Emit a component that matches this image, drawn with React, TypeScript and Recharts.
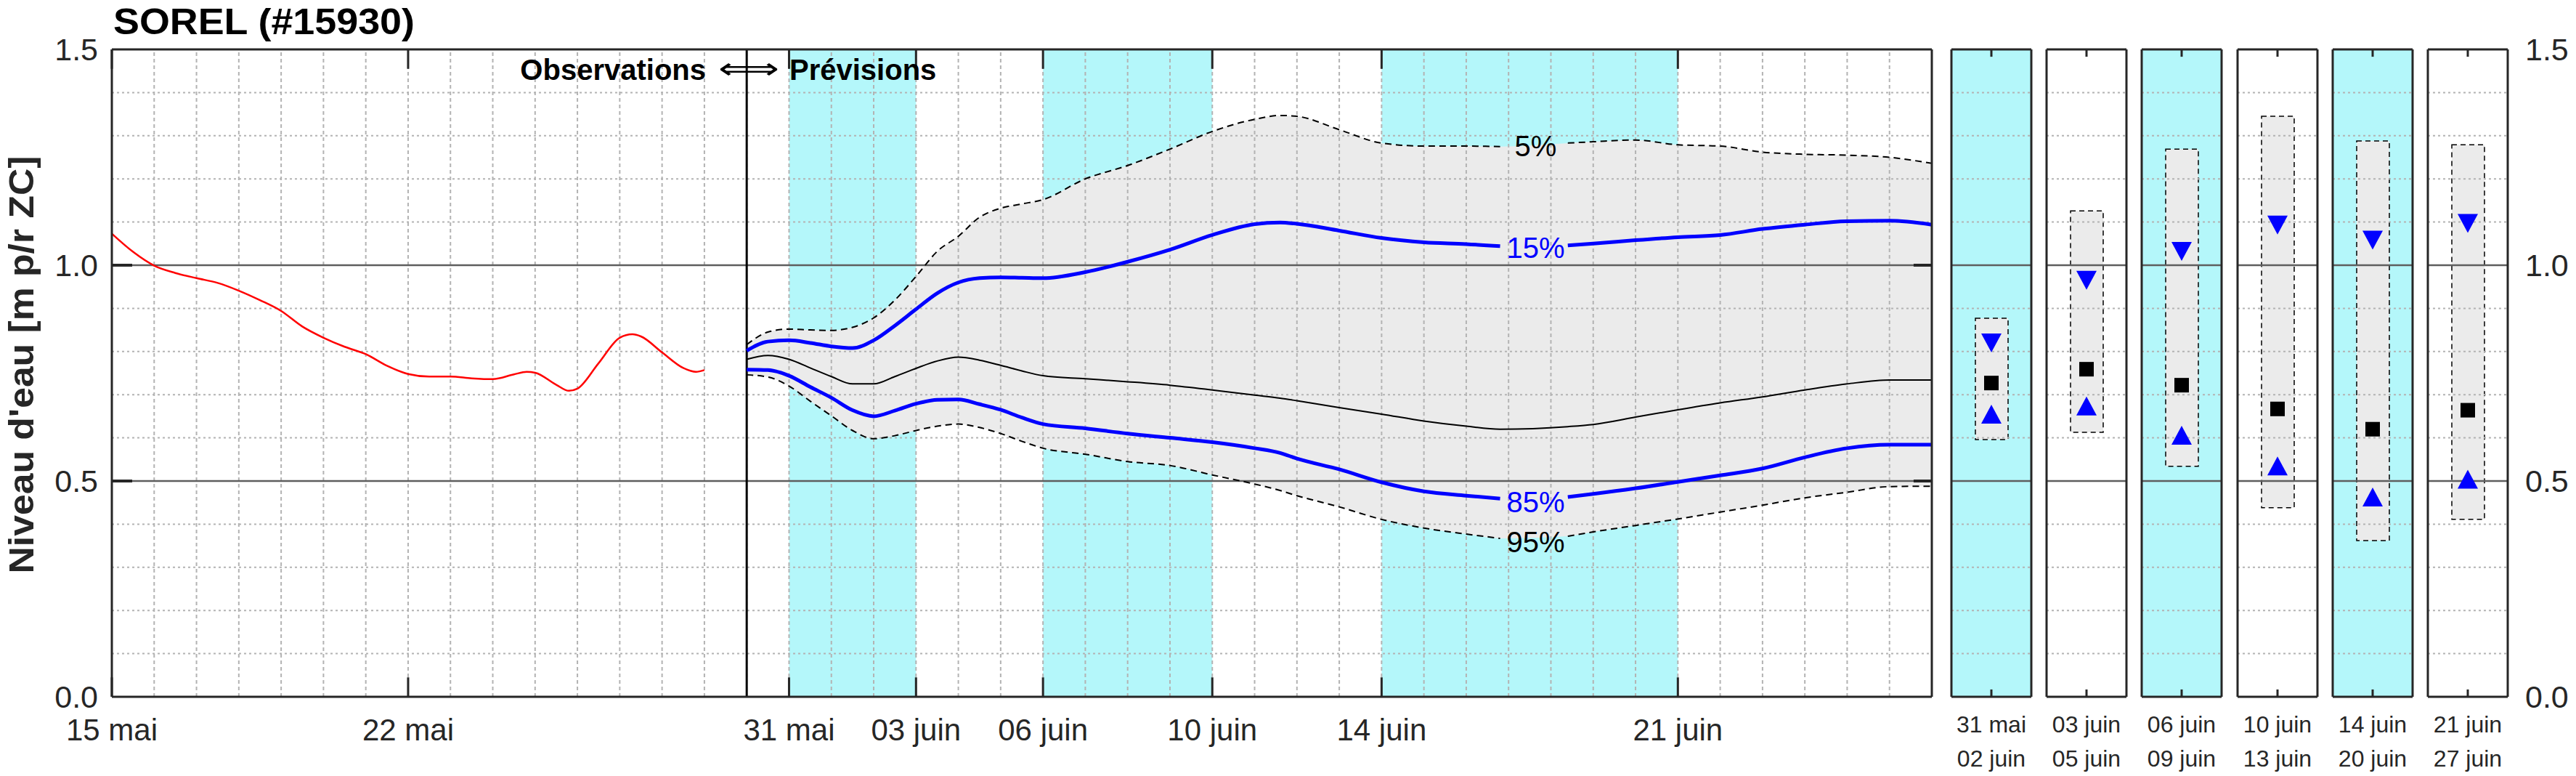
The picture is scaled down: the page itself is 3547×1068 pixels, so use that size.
import React from 'react';
import {
  ComposedChart, Line, Area, Bar, Scatter, XAxis, YAxis,
  ReferenceLine, ReferenceArea, ReferenceDot,
} from 'recharts';

const FONT = '"Liberation Sans", Arial, Helvetica, sans-serif';
const CYAN = '#b4f7fa';
const BAND = '#ebebeb';
const AXIS = '#262626';
const GRID = '#b3b3b3';
const MAJOR = '#5e5e5e';

// ---- x axis (days since 15 mai) ----
const TICK_DAYS = [0, 7, 16, 19, 22, 26, 30, 37];
const TICK_LABELS = ['15 mai', '22 mai', '31 mai', '03 juin', '06 juin', '10 juin', '14 juin', '21 juin'];
const SHADED_START = [16, 22, 30];
const SHADED_END = [19, 26, 37];
const FORECAST_START = 15;

// ---- observations ----
const OBS_DAYS = [0, 0.5, 1, 1.5, 2, 2.5, 3, 3.5, 4, 4.5, 5, 5.5, 6, 6.5, 7, 7.5, 8, 8.5, 9, 9.5, 9.8, 10, 10.5, 10.8, 11, 11.5, 12, 12.3, 12.5, 13, 13.5, 13.8, 14];
const OBS_LEVEL = [1.073, 1.031, 0.999, 0.982, 0.970, 0.959, 0.941, 0.919, 0.894, 0.858, 0.832, 0.811, 0.794, 0.767, 0.748, 0.742, 0.742, 0.738, 0.736, 0.747, 0.753, 0.751, 0.723, 0.709, 0.714, 0.773, 0.832, 0.840, 0.835, 0.798, 0.762, 0.753, 0.757];

// ---- forecast percentiles ----
const FC_DAYS = [15, 15.5, 16, 16.5, 17, 17.5, 18, 18.5, 19, 19.5, 20, 20.5, 21, 21.5, 22, 23, 24, 25, 26, 27, 27.6, 28, 29, 30, 31, 32, 32.8, 34.4, 35, 36, 37, 38, 39, 40, 41, 42, 43];
const P05 = [0.816, 0.845, 0.852, 0.850, 0.849, 0.856, 0.878, 0.919, 0.974, 1.032, 1.067, 1.111, 1.132, 1.142, 1.152, 1.200, 1.231, 1.269, 1.310, 1.338, 1.347, 1.345, 1.314, 1.283, 1.276, 1.276, 1.275, 1.283, 1.286, 1.290, 1.279, 1.276, 1.262, 1.257, 1.255, 1.250, 1.236];
const P15 = [0.802, 0.823, 0.826, 0.820, 0.812, 0.808, 0.826, 0.860, 0.898, 0.935, 0.960, 0.970, 0.972, 0.971, 0.970, 0.984, 1.008, 1.036, 1.070, 1.095, 1.099, 1.096, 1.080, 1.063, 1.053, 1.049, 1.044, 1.046, 1.050, 1.058, 1.065, 1.070, 1.084, 1.094, 1.102, 1.103, 1.094];
const P50 = [0.782, 0.791, 0.782, 0.762, 0.742, 0.725, 0.725, 0.742, 0.761, 0.778, 0.787, 0.780, 0.768, 0.755, 0.744, 0.737, 0.730, 0.722, 0.711, 0.699, 0.692, 0.686, 0.670, 0.655, 0.639, 0.627, 0.620, 0.626, 0.631, 0.648, 0.665, 0.681, 0.695, 0.711, 0.725, 0.734, 0.734];
const P85 = [0.758, 0.757, 0.744, 0.718, 0.693, 0.664, 0.650, 0.663, 0.679, 0.688, 0.689, 0.678, 0.665, 0.647, 0.632, 0.622, 0.610, 0.600, 0.590, 0.576, 0.565, 0.552, 0.527, 0.497, 0.476, 0.466, 0.459, 0.463, 0.470, 0.483, 0.498, 0.513, 0.529, 0.555, 0.576, 0.584, 0.584];
const P95 = [0.746, 0.741, 0.720, 0.685, 0.651, 0.617, 0.598, 0.605, 0.617, 0.627, 0.632, 0.624, 0.610, 0.592, 0.576, 0.562, 0.545, 0.536, 0.514, 0.493, 0.478, 0.466, 0.440, 0.411, 0.391, 0.377, 0.367, 0.372, 0.382, 0.397, 0.412, 0.428, 0.444, 0.461, 0.474, 0.487, 0.488];

// in-line labels of the percentile curves
const LABEL_DAY = 33.64;
const LABEL_GAP = [32.8, 34.4];
const LABEL_TEXT = ['5%', '15%', '85%', '95%'];
const LABEL_Y = [1.277, 1.040, 0.451, 0.359];
const LABEL_COLOR = ['#000000', '#0000ff', '#0000ff', '#000000'];

// ---- summary panels ----
const PANEL_START = ['31 mai', '03 juin', '06 juin', '10 juin', '14 juin', '21 juin'];
const PANEL_END = ['02 juin', '05 juin', '09 juin', '13 juin', '20 juin', '27 juin'];
const PANEL_SHADED = [true, false, true, false, true, false];
const PANEL_P05 = [0.877, 1.126, 1.269, 1.345, 1.288, 1.279];
const PANEL_P15 = [0.820, 0.965, 1.032, 1.093, 1.058, 1.097];
const PANEL_P50 = [0.727, 0.759, 0.722, 0.667, 0.620, 0.664];
const PANEL_P85 = [0.655, 0.674, 0.606, 0.535, 0.463, 0.504];
const PANEL_P95 = [0.596, 0.613, 0.534, 0.438, 0.362, 0.411];

const Y_TICKS = [0, 0.5, 1.0, 1.5];
const MINOR_Y = [0.1, 0.2, 0.3, 0.4, 0.6, 0.7, 0.8, 0.9, 1.1, 1.2, 1.3, 1.4];
const MAJOR_Y = [0.5, 1.0];
const X_MAX = 43;
const DAY_GRID = Array.from({ length: X_MAX - 1 }, (_, i) => i + 1);

const obsRows = OBS_DAYS.map((d, i) => ({ d, v: OBS_LEVEL[i] }));
const fcRows = FC_DAYS.map((d, i) => ({
  d, p05: P05[i], p15: P15[i], p50: P50[i], p85: P85[i], p95: P95[i], band: [P95[i], P05[i]],
}));
const fcBefore = fcRows.filter((r) => r.d <= LABEL_GAP[0]);
const fcAfter = fcRows.filter((r) => r.d >= LABEL_GAP[1]);

const PCT_STYLE: Record<string, any> = {
  p05: { stroke: '#000', strokeWidth: 2, strokeDasharray: '9 6' },
  p15: { stroke: '#0000ff', strokeWidth: 5 },
  p85: { stroke: '#0000ff', strokeWidth: 5 },
  p95: { stroke: '#000', strokeWidth: 2, strokeDasharray: '9 6' },
};

const FRAME_LINE = { stroke: AXIS, strokeWidth: 3 };

function MainChart() {
  return (
    <ComposedChart width={2680} height={1068} margin={{ top: 67, right: 19, bottom: 0, left: 0 }}>
      <XAxis
        type="number" dataKey="d" domain={[0, X_MAX]} ticks={TICK_DAYS} interval={0} allowDataOverflow
        tickFormatter={(v: number) => TICK_LABELS[TICK_DAYS.indexOf(v)]}
        height={109} axisLine={FRAME_LINE} tickLine={false} tickSize={0} tickMargin={30}
        tick={{ fill: AXIS, fontSize: 42, fontFamily: FONT }}
      />
      <XAxis xAxisId="t" orientation="top" type="number" dataKey="d" domain={[0, X_MAX]} allowDataOverflow
        height={1} axisLine={FRAME_LINE} tick={false} tickLine={false} />
      <YAxis
        type="number" domain={[0, 1.5]} ticks={Y_TICKS} interval={0} allowDataOverflow width={154}
        tickFormatter={(v: number) => v.toFixed(1)} axisLine={FRAME_LINE} tickLine={false} tickSize={0} tickMargin={19}
        tick={{ fill: AXIS, fontSize: 43, fontFamily: FONT }}
      />
      <YAxis yAxisId="r" orientation="right" type="number" domain={[0, 1.5]} allowDataOverflow width={1}
        axisLine={FRAME_LINE} tick={false} tickLine={false} />
      {SHADED_START.map((s, i) => (
        <ReferenceArea key={'sh' + i} x1={s} x2={SHADED_END[i]} y1={0} y2={1.5} fill={CYAN} fillOpacity={1} stroke="none" ifOverflow="visible" />
      ))}
      <Area data={fcRows} dataKey="band" type="monotone" fill={BAND} fillOpacity={1} stroke="none" isAnimationActive={false} />
      {DAY_GRID.map((d) => (
        <ReferenceLine key={'vg' + d} x={d} stroke={GRID} strokeWidth={2} strokeDasharray="5 4" />
      ))}
      {MINOR_Y.map((y) => (
        <ReferenceLine key={'hg' + y} y={y} stroke={GRID} strokeWidth={2} strokeDasharray="3 4" />
      ))}
      {MAJOR_Y.map((y) => (
        <ReferenceLine key={'mg' + y} y={y} stroke={MAJOR} strokeWidth={2.5} />
      ))}
      <ReferenceLine x={FORECAST_START} stroke="#000" strokeWidth={3} />
      <Line data={obsRows} dataKey="v" type="monotone" stroke="#ff0000" strokeWidth={2.5} dot={false} isAnimationActive={false} />
      <Line data={fcRows} dataKey="p50" type="monotone" stroke="#000" strokeWidth={2} dot={false} isAnimationActive={false} />
      {['p05', 'p15', 'p85', 'p95'].map((k) => (
        <Line key={k + 'a'} data={fcBefore} dataKey={k} type="monotone" dot={false} isAnimationActive={false} {...PCT_STYLE[k]} />
      ))}
      {['p05', 'p15', 'p85', 'p95'].map((k) => (
        <Line key={k + 'b'} data={fcAfter} dataKey={k} type="monotone" dot={false} isAnimationActive={false} {...PCT_STYLE[k]} />
      ))}
      {LABEL_TEXT.map((t, i) => (
        <ReferenceDot
          key={'lb' + i} x={LABEL_DAY} y={LABEL_Y[i]} r={0} fill="none" stroke="none"
          label={{ value: t, position: 'center', fontSize: 40, fill: LABEL_COLOR[i], fontFamily: FONT }}
        />
      ))}
      {TICK_DAYS.map((d) => (
        <ReferenceLine key={'tb' + d} segment={[{ x: d, y: 0 }, { x: d, y: 0.045 }]} stroke={AXIS} strokeWidth={3} ifOverflow="visible" />
      ))}
      {TICK_DAYS.map((d) => (
        <ReferenceLine key={'tt' + d} segment={[{ x: d, y: 1.455 }, { x: d, y: 1.5 }]} stroke={AXIS} strokeWidth={3} ifOverflow="visible" />
      ))}
      {MAJOR_Y.map((y) => (
        <ReferenceLine key={'tl' + y} segment={[{ x: 0.001, y }, { x: 0.48, y }]} stroke={AXIS} strokeWidth={4} ifOverflow="visible" />
      ))}
      {MAJOR_Y.map((y) => (
        <ReferenceLine key={'tr' + y} segment={[{ x: X_MAX - 0.43, y }, { x: X_MAX - 0.001, y }]} stroke={AXIS} strokeWidth={4} ifOverflow="visible" />
      ))}
    </ComposedChart>
  );
}

const DownTri = (p: any) => {
  const { cx, cy } = p;
  return <polygon points={`${cx - 14},${cy - 13} ${cx + 14},${cy - 13} ${cx},${cy + 13}`} fill="#0000ff" />;
};
const UpTri = (p: any) => {
  const { cx, cy } = p;
  return <polygon points={`${cx - 14},${cy + 13} ${cx + 14},${cy + 13} ${cx},${cy - 13}`} fill="#0000ff" />;
};
const Square = (p: any) => {
  const { cx, cy } = p;
  return <rect x={cx - 10} y={cy - 10} width={20} height={20} fill="#000" />;
};

const PanelTick = (props: any) => {
  const { x, y, payload } = props;
  const idx = PANEL_START.indexOf(payload.value);
  return (
    <g>
      <text x={x} y={y + 49} textAnchor="middle" fontSize={32} fill={AXIS} fontFamily={FONT}>{PANEL_START[idx]}</text>
      <text x={x} y={y + 96} textAnchor="middle" fontSize={32} fill={AXIS} fontFamily={FONT}>{PANEL_END[idx]}</text>
    </g>
  );
};

const PANEL_W = 110;
const PANEL_LEFT = 2687;
const PANEL_STEP = 131.2;

function Panel({ i }: { i: number }) {
  const last = i === PANEL_START.length - 1;
  const rightW = last ? 94 : 1;
  const row = [{
    name: PANEL_START[i],
    box: [PANEL_P95[i], PANEL_P05[i]],
    p15: PANEL_P15[i], p50: PANEL_P50[i], p85: PANEL_P85[i],
  }];
  return (
    <ComposedChart width={2 + PANEL_W + rightW + 1} height={1068} data={row} margin={{ top: 67, right: 1, bottom: 0, left: 1 }}>
      <XAxis dataKey="name" type="category" height={109} axisLine={FRAME_LINE} tickLine={false} tickSize={0} tickMargin={0} interval={0} tick={<PanelTick />} />
      <XAxis xAxisId="t" orientation="top" dataKey="name" type="category" height={1} axisLine={FRAME_LINE} tick={false} tickLine={false} />
      <XAxis xAxisId="n" type="number" domain={[0, 1]} hide allowDataOverflow />
      <YAxis type="number" domain={[0, 1.5]} allowDataOverflow width={1} axisLine={FRAME_LINE} tick={false} tickLine={false} />
      <YAxis
        yAxisId="r" type="number" domain={[0, 1.5]} ticks={Y_TICKS} interval={0} allowDataOverflow
        orientation="right" width={rightW} axisLine={FRAME_LINE} tickLine={false} tickSize={0} tickMargin={24}
        tickFormatter={(v: number) => v.toFixed(1)}
        tick={last ? { fill: AXIS, fontSize: 43, fontFamily: FONT } : false}
      />
      {PANEL_SHADED[i] && (
        <ReferenceArea y1={0} y2={1.5} fill={CYAN} fillOpacity={1} stroke="none" ifOverflow="visible" />
      )}
      <Bar dataKey="box" barSize={45} fill={BAND} stroke="#000" strokeWidth={1.5} strokeDasharray="7 5" isAnimationActive={false} />
      {MINOR_Y.map((y) => (
        <ReferenceLine key={'hg' + y} y={y} stroke={GRID} strokeWidth={2} strokeDasharray="3 4" />
      ))}
      {MAJOR_Y.map((y) => (
        <ReferenceLine key={'mg' + y} y={y} stroke={MAJOR} strokeWidth={2.5} />
      ))}
      <Scatter dataKey="p15" shape={DownTri} isAnimationActive={false} />
      <Scatter dataKey="p50" shape={Square} isAnimationActive={false} />
      <Scatter dataKey="p85" shape={UpTri} isAnimationActive={false} />
      <ReferenceLine xAxisId="n" segment={[{ x: 0.5, y: 0 }, { x: 0.5, y: 0.017 }]} stroke={AXIS} strokeWidth={3} ifOverflow="visible" />
      <ReferenceLine xAxisId="n" segment={[{ x: 0.5, y: 1.483 }, { x: 0.5, y: 1.5 }]} stroke={AXIS} strokeWidth={3} ifOverflow="visible" />
      {MAJOR_Y.map((y) => (
        <ReferenceLine key={'tl' + y} xAxisId="n" segment={[{ x: 0.001, y }, { x: 0.09, y }]} stroke={AXIS} strokeWidth={4} ifOverflow="visible" />
      ))}
      {MAJOR_Y.map((y) => (
        <ReferenceLine key={'tr' + y} xAxisId="n" segment={[{ x: 0.91, y }, { x: 0.999, y }]} stroke={AXIS} strokeWidth={4} ifOverflow="visible" />
      ))}
    </ComposedChart>
  );
}

export default function App() {
  return (
    <div style={{ position: 'absolute', left: 0, top: 0, width: 3547, height: 1068, background: '#fff', fontFamily: FONT, overflow: 'hidden' }}>
      <div style={{ position: 'absolute', left: 0, top: 0 }}>
        <MainChart />
      </div>
      {PANEL_START.map((_, i) => (
        <div key={i} style={{ position: 'absolute', left: PANEL_LEFT - 2 + i * PANEL_STEP, top: 0 }}>
          <Panel i={i} />
        </div>
      ))}
      <svg width={3547} height={1068} style={{ position: 'absolute', left: 0, top: 0, pointerEvents: 'none' }}>
        <text x={156} y={47} fontSize={50} fontWeight="bold" fill="#000" fontFamily={FONT} textLength={415} lengthAdjust="spacingAndGlyphs">SOREL (#15930)</text>
        <text transform="translate(46,502) rotate(-90)" textAnchor="middle" fontSize={49} fontWeight="bold" fill={AXIS} fontFamily={FONT} textLength={575} lengthAdjust="spacingAndGlyphs">Niveau d'eau [m p/r ZC]</text>
        <text x={972} y={110} textAnchor="end" fontSize={40} fontWeight="bold" fill="#000" fontFamily={FONT}>Observations</text>
        <text x={989} y={108} fontSize={40} fill="#000" fontFamily="DejaVu Sans" textLength={84} lengthAdjust="spacingAndGlyphs">⟺</text>
        <text x={1087} y={110} fontSize={40} fontWeight="bold" fill="#000" fontFamily={FONT}>Prévisions</text>
      </svg>
    </div>
  );
}
